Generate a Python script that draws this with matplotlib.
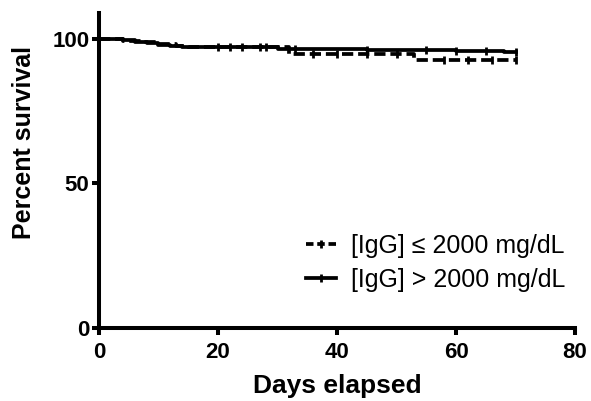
import matplotlib.pyplot as plt
from matplotlib.lines import Line2D

plt.rcParams['font.family'] = ['Liberation Sans', 'DejaVu Sans']

# Kaplan-Meier step data (days, percent survival)
low_t = [0, 4, 7, 10, 13, 15, 32, 53, 70]
low_s = [100, 99.4, 98.8, 98.2, 97.6, 97.3, 94.6, 92.8, 92.8]
low_cens_t = [20, 24, 28, 36, 40, 45, 50, 58, 62, 66, 70]

high_t = [0, 4, 6, 8, 10, 12, 14, 15, 30, 45, 60, 68, 70]
high_s = [100, 99.5, 99.0, 98.5, 98.0, 97.6, 97.3, 97.1, 96.6, 96.2, 95.9, 95.3, 95.3]
high_cens_t = [22, 27, 33, 45, 55, 60, 65, 70]

labels = ["[IgG] \u2264 2000 mg/dL", "[IgG] > 2000 mg/dL"]


def surv_at(ts, ss, t):
    v = ss[0]
    for ti, si in zip(ts, ss):
        if ti <= t:
            v = si
    return v


fig = plt.figure(figsize=(5.91, 4.01), dpi=100)
ax = fig.add_axes([0.1675, 0.182, 0.8055, 0.786])
lw = 2.7

ax.step(low_t, low_s, where='post', color='black', linewidth=lw,
        linestyle=(0, (3, 1.3)))
ax.plot(low_cens_t, [surv_at(low_t, low_s, t) for t in low_cens_t], '|',
        color='black', markersize=6, markeredgewidth=2)
ax.step(high_t, high_s, where='post', color='black', linewidth=lw)
ax.plot(high_cens_t, [surv_at(high_t, high_s, t) for t in high_cens_t], '|',
        color='black', markersize=6, markeredgewidth=2)

ax.set_xlim(0, 80)
ax.set_ylim(0, 109)
ax.set_xticks([0, 20, 40, 60, 80])
ax.set_yticks([0, 50, 100])
for side in ['top', 'right']:
    ax.spines[side].set_visible(False)
for side in ['left', 'bottom']:
    ax.spines[side].set_linewidth(2.9)
ax.tick_params(direction='out', length=5, width=2.9, labelsize=16, pad=2)
ax.tick_params(axis='x', pad=5)
for lab in ax.get_xticklabels() + ax.get_yticklabels():
    lab.set_fontweight('bold')
ax.set_xlabel("Days elapsed", fontsize=19, fontweight='bold', labelpad=8)
ax.set_ylabel("Percent survival", fontsize=18, fontweight='bold')
ax.yaxis.set_label_coords(-0.133, 0.59)

handles = [Line2D([], [], color='black', linewidth=lw, linestyle=(0, (2, 1)),
                  marker='|', markersize=6, markeredgewidth=2),
           Line2D([], [], color='black', linewidth=lw,
                  marker='|', markersize=6, markeredgewidth=2)]
ax.legend(handles, labels, loc='lower right', bbox_to_anchor=(0.98, 0.115),
          borderaxespad=0, borderpad=0, frameon=False, fontsize=18,
          handlelength=1.2, handletextpad=0.6, labelspacing=0.4)

fig.savefig('out.png', dpi=100)
